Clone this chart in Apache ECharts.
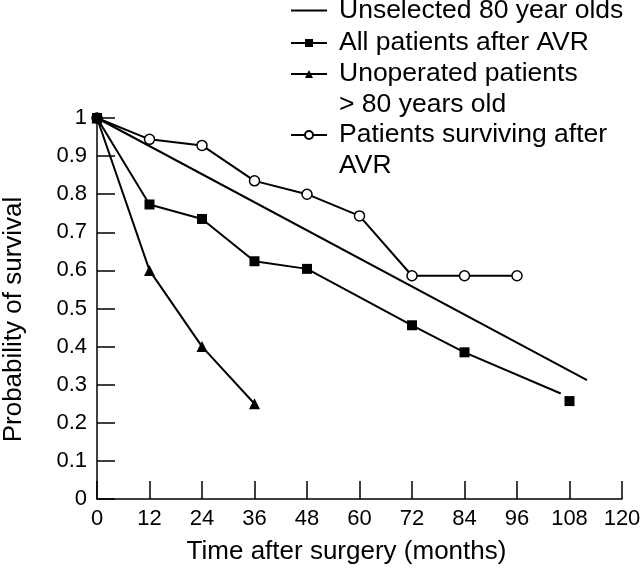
<!DOCTYPE html>
<html>
<head>
<meta charset="utf-8">
<script src="https://cdn.jsdelivr.net/npm/echarts@6/dist/echarts.min.js"></script>
<style>
html,body{margin:0;padding:0;background:#fff;}
#chart{width:640px;height:570px;}
</style>
</head>
<body>
<div id="chart"></div>
<script>
// ---- data ----
const xTicks = [0, 12, 24, 36, 48, 60, 72, 84, 96, 108, 120];
const yTicks = [0, 0.1, 0.2, 0.3, 0.4, 0.5, 0.6, 0.7, 0.8, 0.9, 1];

const seriesNames = [
  'Unselected 80 year olds',
  'All patients after AVR',
  'Unoperated patients\n> 80 years old',
  'Patients surviving after\nAVR'
];

// Unselected 80 year olds (straight line)
const unselectedX = [0, 112];
const unselectedY = [1, 0.312];

// All patients after AVR
const allAvrX = [0, 12, 24, 36, 48, 72, 84];
const allAvrY = [1, 0.773, 0.735, 0.624, 0.604, 0.456, 0.385];
const allAvrLineEndX = [106];
const allAvrLineEndY = [0.277];
const allAvrLastX = [108];
const allAvrLastY = [0.257];

// Unoperated patients > 80 years old
const unopX = [0, 12, 24, 36];
const unopY = [1, 0.6, 0.4, 0.25];

// Patients surviving after AVR
const survX = [0, 12, 24, 36, 48, 60, 72, 84, 96];
const survY = [1, 0.944, 0.928, 0.835, 0.800, 0.743, 0.586, 0.586, 0.586];

const zip = (xs, ys) => xs.map((x, i) => [x, ys[i]]);

const FONT = "'Liberation Sans', Arial, sans-serif";
const BLACK = '#000';

const chart = echarts.init(document.getElementById('chart'), null, {renderer: 'canvas'});

const legendBase = {
  orient: 'vertical',
  left: 290,
  padding: 0,
  itemWidth: 36,
  itemHeight: 10,
  itemGap: 0,
  selectedMode: false,
  // two-line names get an empty first line so the icon sits on the first text line
  formatter: name => (name.indexOf('\n') >= 0 ? '\n' + name : name),
  textStyle: {fontFamily: FONT, fontSize: 26.5, color: BLACK, lineHeight: 31, padding: [0, 0, 0, 7]}
};

const option = {
  backgroundColor: '#fff',
  animation: false,
  legend: [
    Object.assign({}, legendBase, {top: -5, data: [seriesNames[0]],
      itemStyle: {color: 'transparent', borderColor: 'transparent', borderWidth: 0, opacity: 0}}),
    Object.assign({}, legendBase, {top: 27.5, data: [seriesNames[1]]}),
    Object.assign({}, legendBase, {top: 27.5, data: [seriesNames[2]]}),
    Object.assign({}, legendBase, {top: 88.5, data: [seriesNames[3]]})
  ],
  grid: {left: 97, right: 18, top: 118, bottom: 71, containLabel: false, outerBoundsMode: 'none'},
  xAxis: {
    type: 'value',
    min: xTicks[0],
    max: xTicks[xTicks.length - 1],
    interval: 12,
    name: 'Time after surgery (months)',
    nameLocation: 'middle',
    nameGap: 40,
    nameTextStyle: {fontFamily: FONT, fontSize: 26, color: BLACK, padding: [0, 26, 0, 0]},
    axisLine: {show: true, lineStyle: {color: BLACK, width: 1.5}},
    axisTick: {show: true, inside: true, length: 18, lineStyle: {color: BLACK, width: 1.5}},
    axisLabel: {fontFamily: FONT, fontSize: 22, color: BLACK, margin: 9},
    splitLine: {show: false}
  },
  yAxis: {
    type: 'value',
    min: yTicks[0],
    max: yTicks[yTicks.length - 1],
    interval: 0.1,
    name: 'Probability of survival',
    nameLocation: 'middle',
    nameGap: 70,
    nameTextStyle: {fontFamily: FONT, fontSize: 26, color: BLACK, padding: [0, 22, 0, 0]},
    axisLine: {show: true, lineStyle: {color: BLACK, width: 1.5}},
    axisTick: {show: true, inside: true, length: 18, lineStyle: {color: BLACK, width: 1.5}},
    axisLabel: {fontFamily: FONT, fontSize: 22, color: BLACK, margin: 10},
    splitLine: {show: false}
  },
  series: [
    {
      name: seriesNames[0],
      type: 'line',
      data: zip(unselectedX, unselectedY),
      symbol: 'none',
      lineStyle: {color: BLACK, width: 2},
      itemStyle: {color: BLACK},
      z: 2
    },
    {
      name: seriesNames[2],
      type: 'line',
      data: zip(unopX, unopY),
      symbol: 'triangle',
      symbolSize: 11,
      showAllSymbol: true,
      lineStyle: {color: BLACK, width: 2},
      itemStyle: {color: BLACK},
      z: 3
    },
    {
      name: seriesNames[3],
      type: 'line',
      data: zip(survX, survY),
      symbol: 'circle',
      symbolSize: 10,
      showAllSymbol: true,
      lineStyle: {color: BLACK, width: 2},
      itemStyle: {color: '#fff', borderColor: BLACK, borderWidth: 1.5},
      z: 4
    },
    {
      name: seriesNames[1],
      type: 'line',
      data: zip(allAvrX, allAvrY).concat(
        zip(allAvrLineEndX, allAvrLineEndY).map(p => ({value: p, symbol: 'none'}))
      ),
      symbol: 'rect',
      symbolSize: 10,
      showAllSymbol: true,
      lineStyle: {color: BLACK, width: 2},
      itemStyle: {color: BLACK},
      z: 5
    },
    {
      name: seriesNames[1],
      type: 'scatter',
      data: zip(allAvrLastX, allAvrLastY),
      symbol: 'rect',
      symbolSize: 10,
      itemStyle: {color: BLACK, opacity: 1},
      z: 5
    }
  ]
};

chart.setOption(option);
</script>
</body>
</html>
